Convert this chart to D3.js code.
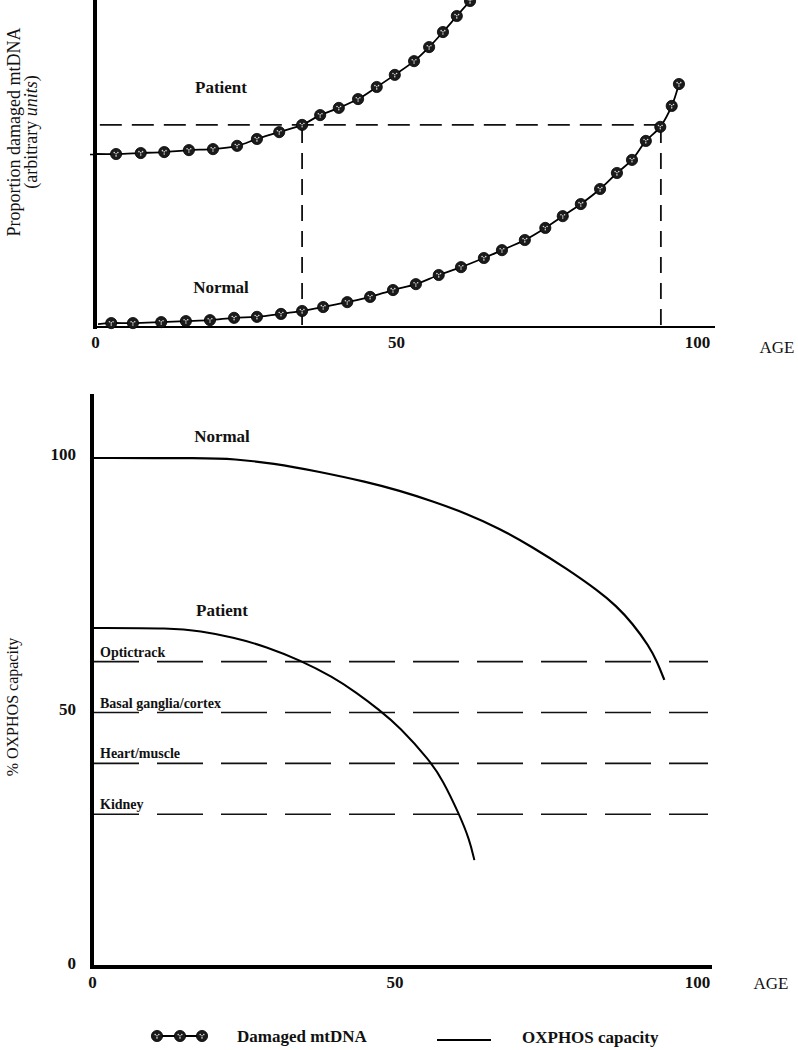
<!DOCTYPE html>
<html>
<head>
<meta charset="utf-8">
<script src="https://cdn.jsdelivr.net/npm/d3@7"></script>
<style>
  body { margin: 0; background: #fff; }
  svg { display: block; }
  text { font-family: "Liberation Serif", "Times New Roman", serif; fill: #111; }
</style>
</head>
<body>
<svg id="chart" width="798" height="1050"></svg>
<script>
// ---------------- DATA ----------------
// Top panel: proportion of damaged mtDNA (arbitrary units) vs age
const patientAges   = [0, 3.5, 7.6, 11.5, 15.6, 19.6, 23.6, 26.9, 30.6, 34.4, 37.4, 40.5, 43.7, 46.8, 49.8, 53.0, 55.5, 57.8, 60.1, 62.3];
const patientDamage = [52.9, 52.9, 53.2, 53.5, 54.1, 54.4, 55.4, 57.5, 59.6, 61.8, 64.8, 67.0, 69.7, 73.4, 77.1, 81.3, 85.6, 90.2, 95.1, 99.7];
const normalAges    = [0.5, 2.7, 6.3, 11.0, 15.1, 19.1, 23.1, 26.9, 30.9, 34.4, 37.9, 41.9, 45.7, 49.5, 53.3, 57.1, 60.8, 64.6, 67.6, 71.4, 74.8, 77.7, 80.7, 83.9, 86.7, 89.2, 91.5, 93.9, 95.8, 97.0];
const normalDamage  = [0.9, 1.2, 1.2, 1.5, 1.8, 2.1, 2.8, 3.1, 4.0, 4.9, 6.1, 7.6, 9.2, 11.3, 13.1, 15.9, 18.3, 21.1, 23.5, 26.6, 30.3, 33.9, 37.6, 42.2, 47.1, 51.1, 56.9, 61.2, 67.6, 74.3];
const damageThreshold = 61.8;          // horizontal dashed line
const thresholdAges   = [34.4, 94.0];  // vertical dashed lines (patient, normal)
const ageTicks = [0, 50, 100];

// Bottom panel: % OXPHOS capacity vs age
const oxNormalAges  = [0, 19, 23.3, 29.9, 37.6, 45.4, 50.8, 56.3, 61.9, 67.3, 72.8, 78.4, 83.8, 86.6, 89.3, 92.1, 93.4, 94.6];
const oxNormalVals  = [100, 100, 99.8, 99.0, 97.3, 95.3, 93.6, 91.5, 89.1, 86.2, 82.5, 78.3, 73.8, 71.0, 67.6, 63.0, 60.0, 56.4];
const oxPatientAges = [0, 13.4, 17.8, 23.3, 28.9, 34.3, 39.8, 43.7, 47.5, 50.8, 55.8, 57.9, 60.7, 62.4, 63.2];
const oxPatientVals = [66.6, 66.6, 66.0, 64.8, 62.9, 60.3, 57.0, 53.9, 50.5, 47.2, 40.6, 36.9, 30.0, 25.0, 21.0];
const tissues        = ["Optictrack", "Basal ganglia/cortex", "Heart/muscle", "Kidney"];
const tissueThresh   = [60, 50, 40, 30];
const oxTicks = [0, 50, 100];

const legendLabels = ["Damaged mtDNA", "OXPHOS capacity"];

// ---------------- DRAW ----------------
const svg = d3.select("#chart");

function marker(g, cx, cy) {
  const m = g.append("g").attr("transform", `translate(${cx},${cy})`);
  m.append("circle").attr("r", 5.6).attr("fill", "#1b1b1b").attr("stroke", "#000").attr("stroke-width", 0.8);
  [[-1.8,-1.4],[1.8,-1.4],[0,1.9],[0,-0.2]].forEach(([dx,dy]) =>
    m.append("circle").attr("cx", dx).attr("cy", dy).attr("r", 0.8).attr("fill", "#d8d8d8"));
}

// ===== Top panel =====
const xT = d3.scaleLinear().domain([0, 100]).range([95, 697]);
const yT = d3.scaleLinear().domain([0, 100]).range([327, 0]);
const gTop = svg.append("g");

// dashed guides
gTop.append("line")
  .attr("x1", xT(0.8)).attr("x2", xT(thresholdAges[1]))
  .attr("y1", yT(damageThreshold)).attr("y2", yT(damageThreshold))
  .attr("stroke", "#111").attr("stroke-width", 1.8).attr("stroke-dasharray", "22,10");
thresholdAges.forEach(a => {
  gTop.append("line")
    .attr("x1", xT(a)).attr("x2", xT(a))
    .attr("y1", yT(damageThreshold) + 2).attr("y2", yT(0))
    .attr("stroke", "#111").attr("stroke-width", 1.8).attr("stroke-dasharray", "16,10");
});

// axes
const xAxisT = gTop.append("g").attr("transform", `translate(0,${yT(0)})`)
  .call(d3.axisBottom(xT).tickValues(ageTicks).tickSize(0).tickPadding(9).tickFormat(d3.format("d")));
xAxisT.select(".domain").remove();
gTop.append("line").attr("x1", xT(0)).attr("x2", 715).attr("y1", yT(0)).attr("y2", yT(0))
  .attr("stroke", "#000").attr("stroke-width", 2);
xAxisT.selectAll("text").style("font-size", "17px").style("font-weight", "bold")
  .style("font-family", "'Liberation Serif', serif").attr("fill", "#111");

const yAxisT = gTop.append("g").attr("transform", `translate(${xT(0)},0)`)
  .call(d3.axisLeft(yT).tickValues([patientDamage[0]]).tickSize(5).tickFormat(""));
yAxisT.select(".domain").remove();
yAxisT.selectAll("line").attr("stroke", "#000").attr("stroke-width", 1.5);
gTop.append("line").attr("x1", xT(0)).attr("x2", xT(0)).attr("y1", 0).attr("y2", yT(0) + 2)
  .attr("stroke", "#000").attr("stroke-width", 4);

gTop.append("text").attr("x", 777).attr("y", yT(0) + 26).attr("text-anchor", "middle")
  .style("font-size", "17px").text("AGE");

// curves
const lineT = d3.line().x(d => xT(d[0])).y(d => yT(d[1])).curve(d3.curveCatmullRom);
const patientPts = patientAges.map((a, i) => [a, patientDamage[i]]);
const normalPts = normalAges.map((a, i) => [a, normalDamage[i]]);
[patientPts, normalPts].forEach(pts => {
  gTop.append("path").attr("d", lineT(pts)).attr("fill", "none").attr("stroke", "#000").attr("stroke-width", 1.8);
  pts.filter(p => p[0] > 1).forEach(p => marker(gTop, xT(p[0]), yT(p[1])));
});

gTop.append("text").attr("x", 221).attr("y", 93).attr("text-anchor", "middle")
  .style("font-size", "17px").style("font-weight", "bold").text("Patient");
gTop.append("text").attr("x", 221).attr("y", 293).attr("text-anchor", "middle")
  .style("font-size", "17px").style("font-weight", "bold").text("Normal");

// y label
const yl = gTop.append("text").attr("transform", "translate(0,132) rotate(-90)").attr("text-anchor", "middle")
  .style("font-size", "18px");
yl.append("tspan").attr("x", 0).attr("y", 20).text("Proportion damaged mtDNA");
const yl2 = yl.append("tspan").attr("x", 0).attr("y", 37);
yl2.text("(arbitrary ");
yl.append("tspan").style("font-style", "italic").text("units");
yl.append("tspan").text(")");

// ===== Bottom panel =====
const xB = d3.scaleLinear().domain([0, 100]).range([92, 697]);
const yB = d3.scaleLinear().domain([0, 100]).range([967, 458]);
const gBot = svg.append("g");

// tissue thresholds
tissues.forEach((t, i) => {
  const y = yB(tissueThresh[i]);
  gBot.append("line").attr("x1", xB(0) + 1).attr("x2", 708).attr("y1", y).attr("y2", y)
    .attr("stroke", "#111").attr("stroke-width", 1.6).attr("stroke-dasharray", "46,18");
  gBot.append("text").attr("x", 100).attr("y", y - 5)
    .style("font-size", "14px").style("font-weight", "bold").text(t);
});

// axes
const xAxisB = gBot.append("g").attr("transform", `translate(0,${yB(0)})`)
  .call(d3.axisBottom(xB).tickValues(ageTicks).tickSize(0).tickPadding(9).tickFormat(d3.format("d")));
xAxisB.select(".domain").remove();
xAxisB.selectAll("text").style("font-size", "17px").style("font-weight", "bold")
  .style("font-family", "'Liberation Serif', serif").attr("fill", "#111");
const yAxisB = gBot.append("g").attr("transform", `translate(${xB(0)},0)`)
  .call(d3.axisLeft(yB).tickValues(oxTicks).tickSize(0).tickPadding(16).tickFormat(d3.format("d")));
yAxisB.select(".domain").remove();
yAxisB.selectAll("text").style("font-size", "17px").style("font-weight", "bold")
  .style("font-family", "'Liberation Serif', serif").attr("fill", "#111").attr("dy", "0.1em");

gBot.append("line").attr("x1", xB(0)).attr("x2", xB(0)).attr("y1", 394).attr("y2", yB(0) + 2)
  .attr("stroke", "#000").attr("stroke-width", 4);
gBot.append("line").attr("x1", xB(0) - 2).attr("x2", 712).attr("y1", yB(0)).attr("y2", yB(0))
  .attr("stroke", "#000").attr("stroke-width", 4);

gBot.append("text").attr("x", 771).attr("y", yB(0) + 22).attr("text-anchor", "middle")
  .style("font-size", "17px").text("AGE");

// curves
const lineB = d3.line().x(d => xB(d[0])).y(d => yB(d[1])).curve(d3.curveBasis);
gBot.append("path").attr("d", lineB(oxNormalAges.map((a, i) => [a, oxNormalVals[i]])))
  .attr("fill", "none").attr("stroke", "#000").attr("stroke-width", 2.2);
gBot.append("path").attr("d", lineB(oxPatientAges.map((a, i) => [a, oxPatientVals[i]])))
  .attr("fill", "none").attr("stroke", "#000").attr("stroke-width", 2);

gBot.append("text").attr("x", 222).attr("y", 442).attr("text-anchor", "middle")
  .style("font-size", "17px").style("font-weight", "bold").text("Normal");
gBot.append("text").attr("x", 222).attr("y", 616).attr("text-anchor", "middle")
  .style("font-size", "17px").style("font-weight", "bold").text("Patient");

gBot.append("text").attr("transform", "translate(18,707) rotate(-90)").attr("text-anchor", "middle")
  .style("font-size", "16px").text("% OXPHOS capacity");

// ===== Legend =====
const leg = svg.append("g");
const legMarkerX = [157, 180, 202];
leg.append("line").attr("x1", legMarkerX[0]).attr("x2", legMarkerX[2]).attr("y1", 1036).attr("y2", 1036)
  .attr("stroke", "#000").attr("stroke-width", 2);
legMarkerX.forEach(x => marker(leg, x, 1036));
leg.append("text").attr("x", 237).attr("y", 1042).style("font-size", "17px").style("font-weight", "bold")
  .text(legendLabels[0]);
leg.append("line").attr("x1", 437).attr("x2", 491).attr("y1", 1040).attr("y2", 1040)
  .attr("stroke", "#000").attr("stroke-width", 2);
leg.append("text").attr("x", 522).attr("y", 1043).style("font-size", "17px").style("font-weight", "bold")
  .text(legendLabels[1]);
</script>
</body>
</html>
